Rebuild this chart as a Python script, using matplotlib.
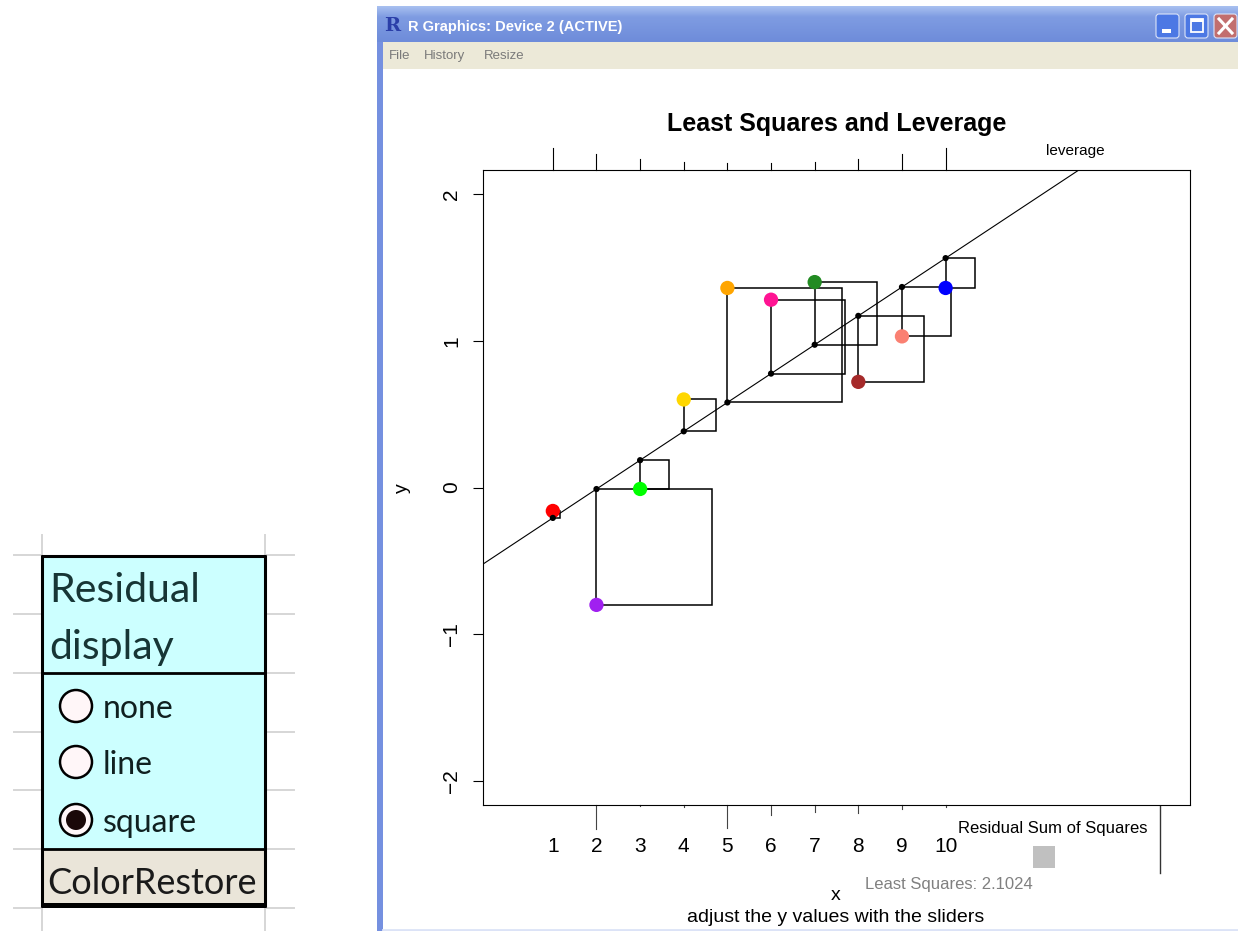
import numpy as np
import matplotlib.pyplot as plt
from matplotlib.patches import Rectangle, Circle, FancyBboxPatch
from matplotlib.colors import to_rgb

# observed y at each x, with the colour each point is drawn in
x_vals = np.arange(1, 11)
y_vals = np.array([-0.16, -0.80, -0.01, 0.60, 1.36, 1.28, 1.40, 0.72, 1.03, 1.36])
point_colors = ["#FF0000", "#A020F0", "#00FF00", "#FFD700", "#FFA500",
                "#FF1493", "#228B22", "#A52A2A", "#FA8072", "#0000FF"]
y_ticks = [-2, -1, 0, 1, 2]

radio_labels = ["none", "line", "square"]
radio_choice = "square"
menu_items = ["File", "History", "Resize"]
window_title = "R Graphics: Device 2 (ACTIVE)"
rss_label = "Least Squares: 2.1024"

W, H = 1238, 931
plt.rcParams['font.family'] = ['Liberation Sans', 'DejaVu Sans']

fig = plt.figure(figsize=(W / 100, H / 100), dpi=100)

# pixel layer for the window frame and the spreadsheet control
bg = fig.add_axes([0, 0, 1, 1])
bg.axis('off')

# --- spreadsheet side ---
for gy in [555, 614, 673, 732, 790, 849, 908]:
    bg.plot([14, 42], [gy, gy], color='#D6D6D6', lw=1.4)
    bg.plot([265, 294], [gy, gy], color='#D6D6D6', lw=1.4)
for gx in [42, 265]:
    bg.plot([gx, gx], [535, 931], color='#D6D6D6', lw=1.4)

bg.add_patch(Rectangle((42, 556), 223, 293, fc='#CCFFFF', ec='none'))
bg.add_patch(Rectangle((42, 849), 223, 57, fc='#EAE5D9', ec='none'))
for yy, lw in [(556, 2.2), (673, 2.0), (849, 2.0), (905, 3.6)]:
    bg.plot([41, 266], [yy, yy], color='black', lw=lw, solid_capstyle='butt')
for xx in [42, 265]:
    bg.plot([xx, xx], [555, 907], color='black', lw=2.2, solid_capstyle='butt')

panel_font = ['Lato', 'DejaVu Sans']
bg.text(49, 590, "Residual", family=panel_font, fontsize=29.5, color='#173535', va='center')
bg.text(49, 648, "display", family=panel_font, fontsize=29.5, color='#173535', va='center')
for lab, ry in zip(radio_labels, [706, 762, 820]):
    bg.add_patch(Circle((76, ry), 16, fc='#FFF6F8', ec='black', lw=1.8))
    if lab == radio_choice:
        bg.add_patch(Circle((76, ry), 10, fc='#1A0808', ec='none'))
    bg.text(103, ry + 3, lab, family=panel_font, fontsize=23, color='#102020', va='center')
bg.text(47, 884, "ColorRestore", family=panel_font, fontsize=26, color='#1A1A1A', va='center')

# --- window chrome ---
stops = [0, 0.3, 1]
cols = np.array([to_rgb(c) for c in ['#A8C0F0', '#7F9CE2', '#6E8CDA']])
t = np.linspace(0, 1, 40)
grad = np.stack([np.interp(t, stops, cols[:, k]) for k in range(3)], axis=1)[:, None, :]
bg.imshow(grad, extent=[377, W, 42, 6], aspect='auto', interpolation='bilinear')
bg.add_patch(Rectangle((377, 42), 6, H - 42, fc='#7590E0', ec='none'))
bg.add_patch(Rectangle((383, 42), W - 383, 27, fc='#ECE9D8', ec='none'))
bg.plot([383, W], [930, 930], color='#DCE3F7', lw=2)

bg.text(384, 26, 'R', family='DejaVu Serif', fontweight='bold', fontsize=14,
        color='#2B3FA8', va='center')
bg.text(408, 27, window_title, color='white', fontsize=10.5, fontweight='bold', va='center')
for bx, fc in [(1156, '#4C78E4'), (1185, '#4C78E4'), (1214, '#C26E6E')]:
    bg.add_patch(FancyBboxPatch((bx, 14), 23, 24, boxstyle='round,pad=0,rounding_size=3',
                                fc=fc, ec='#DCE4F8', lw=0.8, zorder=3))
bg.add_patch(Rectangle((1162, 29), 9, 3.5, fc='white', ec='none', zorder=4))
bg.add_patch(Rectangle((1191, 19), 12, 13, fill=False, ec='white', lw=1.3, zorder=4))
bg.add_patch(Rectangle((1191, 19), 12, 3, fc='white', ec='none', zorder=4))
bg.plot([1219, 1232], [19, 33], color='white', lw=2.2, zorder=4)
bg.plot([1219, 1232], [33, 19], color='white', lw=2.2, zorder=4)

for lab, mx in zip(menu_items, [389, 424, 484]):
    bg.text(mx, 56, lab, color='#7A7A7A', fontsize=9.5, va='center')

# annotations around the plot region
bg.text(1053, 828, "Residual Sum of Squares", fontsize=12, ha='center', va='center')
bg.add_patch(Rectangle((1033, 846), 22, 22, fc='#C0C0C0', ec='none'))
bg.plot([1160, 1160], [806, 873], color='#333333', lw=1)
bg.text(949, 884, rss_label, fontsize=12, color='#808080', ha='center', va='center')
bg.text(836, 895, "x", fontsize=14, ha='center', va='center')
bg.text(836, 918, "adjust the y values with the sliders", fontsize=14, ha='center', va='center')
bg.text(402, 488, "y", fontsize=14, rotation=90, ha='center', va='center')
bg.text(1075, 151, "leverage", fontsize=11, ha='center', va='center')

bg.set_xlim(0, W)
bg.set_ylim(H, 0)

# --- least squares plot ---
left, right, top, bottom = 483, 1190, 170, 805
ax = fig.add_axes([left / W, 1 - bottom / H, (right - left) / W, (bottom - top) / H])
xlim = (-0.6, 15.6)
ylim = (-2.164, 2.164)
ax.set_xlim(*xlim)
ax.set_ylim(*ylim)

slope, intercept = np.polyfit(x_vals, y_vals, 1)
fitted = intercept + slope * x_vals
resid = y_vals - fitted
xc = x_vals - x_vals.mean()
leverage = 1 / len(x_vals) + xc ** 2 / (xc ** 2).sum()

# squares must look square on screen, so scale widths by the pixel aspect
px_x = (right - left) / (xlim[1] - xlim[0])
px_y = (bottom - top) / (ylim[1] - ylim[0])
side_ratio = px_y / px_x

for xi, yi, fi, ri in zip(x_vals, y_vals, fitted, resid):
    ax.add_patch(Rectangle((xi, min(yi, fi)), abs(ri) * side_ratio, abs(ri),
                           fill=False, ec='black', lw=1.1, zorder=2))

ax.axline((0, intercept), slope=slope, color='black', lw=0.8, zorder=3)
ax.scatter(x_vals, y_vals, s=106, c=point_colors, edgecolors='none', zorder=4)
ax.scatter(x_vals, fitted, s=20, c='black', edgecolors='none', zorder=5)

# leverage ticks above the box, squared residual ticks below it
ax_h = bottom - top
trans = ax.get_xaxis_transform()
for xi, h, ri in zip(x_vals, leverage, resid):
    ax.plot([xi, xi], [1, 1 + h * 64 / ax_h], transform=trans, clip_on=False,
            color='black', lw=0.8)
    ax.plot([xi, xi], [0, -ri ** 2 * 38 / ax_h], transform=trans, clip_on=False,
            color='#444444', lw=0.8)

ax.set_title("Least Squares and Leverage", fontsize=18, fontweight='bold', pad=28)
ax.set_xticks(x_vals)
ax.tick_params(axis='x', length=0, pad=23, labelsize=15)
ax.set_yticks(y_ticks)
ax.tick_params(axis='y', length=7, width=0.8, pad=8.5, labelsize=15, labelrotation=90)
for lab in ax.get_yticklabels():
    lab.set_va('center')
for sp in ax.spines.values():
    sp.set_linewidth(0.8)

fig.savefig('out.png', dpi=100)
